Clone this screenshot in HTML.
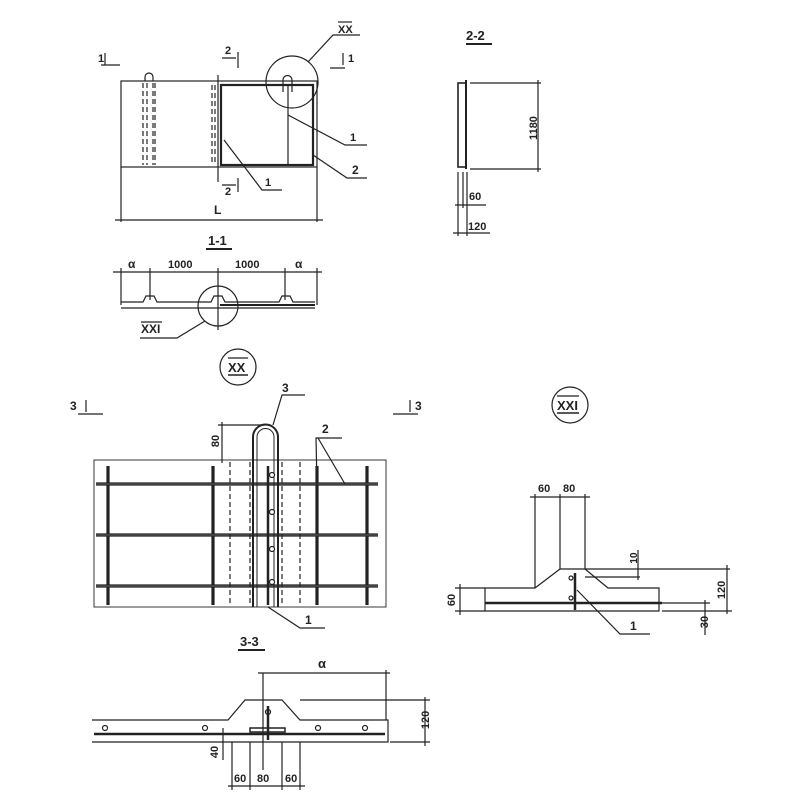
<!DOCTYPE html>
<html><head><meta charset="utf-8"><style>
html,body{margin:0;padding:0;background:#fff}
svg{display:block}
text{font-family:"Liberation Sans",sans-serif;font-weight:bold;fill:#222}
</style></head><body>
<svg width="800" height="800" viewBox="0 0 800 800" xmlns="http://www.w3.org/2000/svg" stroke="#222" fill="none" stroke-width="1.2">
<!-- Plan -->
<rect x="121" y="81" width="196" height="86"/>
<rect x="221" y="85" width="92" height="80" stroke-width="2.2"/>
<line x1="288" y1="85" x2="288" y2="165"/>
<line x1="218" y1="75" x2="218" y2="182"/>
<g stroke-dasharray="5,3">
<line x1="143" y1="83" x2="143" y2="165"/><line x1="147" y1="83" x2="147" y2="165"/><line x1="153" y1="83" x2="153" y2="165"/><line x1="155" y1="83" x2="155" y2="165"/>
<line x1="212" y1="85" x2="212" y2="165"/><line x1="215" y1="85" x2="215" y2="165"/>
</g>
<path d="M145 81 V77 a4 4 0 0 1 8 0 V81"/>
<path d="M283 92 V80 a4 4 0 0 1 9 0 V92"/>
<circle cx="292" cy="82" r="26"/>
<polyline points="308,62 333,35 360,35"/>
<text x="338" y="33" font-size="11" stroke="none">XX</text><line x1="338" y1="22" x2="352" y2="22"/>
<text x="98" y="62" font-size="11" stroke="none">1</text><path d="M105 53 V65 M101 65 H120"/>
<text x="225" y="54" font-size="11" stroke="none">2</text><path d="M222 58 H236 M238 52 V68"/>
<text x="225" y="195" font-size="11" stroke="none">2</text><path d="M222 185 H236 M238 178 V192"/>
<text x="348" y="62" font-size="11" stroke="none">1</text><path d="M343 53 V65 M330 68 H345"/>
<polyline points="288,115 345,145 367,145"/><text x="350" y="141" font-size="11" stroke="none">1</text>
<polyline points="313,155 347,178 367,178"/><text x="352" y="174" font-size="12" stroke="none">2</text>
<polyline points="224,140 262,190 282,190"/><text x="265" y="186" font-size="11" stroke="none">1</text>
<line x1="121" y1="167" x2="121" y2="222"/><line x1="317" y1="167" x2="317" y2="222"/>
<line x1="115" y1="220" x2="323" y2="220"/>
<text x="214" y="214" font-size="12" stroke="none">L</text>
<!-- 2-2 -->
<text x="466" y="40" font-size="13" stroke="none">2-2</text><line x1="466" y1="44" x2="492" y2="44" stroke-width="2"/>
<rect x="458" y="83" width="8" height="84" stroke-width="1.6"/>
<line x1="466" y1="80" x2="466" y2="169" stroke-width="2"/>
<line x1="470" y1="83" x2="541" y2="83"/><line x1="470" y1="169" x2="541" y2="169"/>
<line x1="538" y1="80" x2="538" y2="172"/>
<text transform="translate(537,128) rotate(-90)" font-size="11" stroke="none" text-anchor="middle">1180</text>
<line x1="458" y1="172" x2="458" y2="236"/><line x1="463" y1="172" x2="463" y2="208"/><line x1="467" y1="172" x2="467" y2="236"/>
<line x1="455" y1="205" x2="486" y2="205"/><text x="469" y="200" font-size="11" stroke="none">60</text>
<line x1="453" y1="233" x2="490" y2="233"/><text x="468" y="230" font-size="11" stroke="none">120</text>
<!-- 1-1 -->
<text x="208" y="245" font-size="13" stroke="none">1-1</text><line x1="206" y1="249" x2="232" y2="249" stroke-width="2"/>
<line x1="113" y1="272" x2="322" y2="272"/>
<g><line x1="121" y1="268" x2="121" y2="305"/><line x1="150" y1="268" x2="150" y2="300"/><line x1="218" y1="268" x2="218" y2="330"/><line x1="285" y1="268" x2="285" y2="300"/><line x1="317" y1="268" x2="317" y2="305"/></g>
<text x="128" y="268" font-size="12" stroke="none">α</text>
<text x="168" y="268" font-size="11" stroke="none">1000</text>
<text x="235" y="268" font-size="11" stroke="none">1000</text>
<text x="295" y="268" font-size="12" stroke="none">α</text>
<path d="M121 302 H143 L146 296 H154 L157 302 H211 L214 296 H222 L225 302 H279 L282 296 H290 L293 302 H315"/>
<line x1="121" y1="308" x2="315" y2="308"/><line x1="220" y1="305" x2="315" y2="305" stroke-width="2"/>
<circle cx="218" cy="306" r="20"/>
<polyline points="205,321 177,338 140,338"/>
<text x="141" y="333" font-size="12" stroke="none">XXI</text><line x1="141" y1="322" x2="162" y2="322"/>
<!-- XX -->
<circle cx="238" cy="367" r="18"/><text x="228" y="372" font-size="13" stroke="none">XX</text><line x1="228" y1="358" x2="248" y2="358"/><line x1="228" y1="375" x2="248" y2="375" stroke-width="1.6"/>
<text x="70" y="410" font-size="12" stroke="none">3</text><path d="M86 400 V412 M78 414 H103"/>
<text x="415" y="410" font-size="12" stroke="none">3</text><path d="M410 400 V412 M393 414 H418"/>
<rect x="94" y="460" width="292" height="147" stroke-width="0.9"/>
<g stroke-width="3.2">
<line x1="96" y1="484" x2="378" y2="484"/><line x1="96" y1="535" x2="378" y2="535"/><line x1="96" y1="586" x2="378" y2="586"/>
<line x1="108" y1="466" x2="108" y2="605"/><line x1="213" y1="466" x2="213" y2="605"/><line x1="317" y1="466" x2="317" y2="605"/><line x1="367" y1="466" x2="367" y2="605"/>
</g>
<g stroke="#777" stroke-width="0.8"><line x1="96" y1="484" x2="378" y2="484"/><line x1="96" y1="535" x2="378" y2="535"/><line x1="96" y1="586" x2="378" y2="586"/></g>
<g stroke-dasharray="5,3"><line x1="230" y1="462" x2="230" y2="605"/><line x1="250" y1="462" x2="250" y2="605"/><line x1="282" y1="462" x2="282" y2="605"/><line x1="300" y1="462" x2="300" y2="605"/></g>
<path d="M253 607 V437 a12.5 12.5 0 0 1 25 0 V607" stroke-width="2"/>
<path d="M257 607 V437 a8.5 8.5 0 0 1 17 0 V607" stroke-width="1"/>
<line x1="268" y1="466" x2="268" y2="605" stroke-width="2.5"/>
<g fill="#fff"><circle cx="272" cy="475" r="2.5"/><circle cx="272" cy="512" r="2.5"/><circle cx="272" cy="549" r="2.5"/><circle cx="272" cy="582" r="2.5"/></g>
<line x1="218" y1="425" x2="265" y2="425"/><line x1="222" y1="422" x2="222" y2="463"/>
<text transform="translate(219,441) rotate(-90)" font-size="11" stroke="none" text-anchor="middle">80</text>
<polyline points="273,425 282,395 305,395"/><text x="282" y="392" font-size="12" stroke="none">3</text>
<polyline points="317,486 316,438 342,438"/><line x1="318" y1="438" x2="345" y2="484"/><text x="322" y="433" font-size="12" stroke="none">2</text>
<polyline points="268,607 300,628 325,628"/><text x="305" y="624" font-size="12" stroke="none">1</text>
<!-- 3-3 -->
<text x="240" y="646" font-size="13" stroke="none">3-3</text><line x1="238" y1="650" x2="265" y2="650" stroke-width="2"/>
<path d="M92 720 H228 L245 700 H282 L300 720 H388 V742 H92"/>
<line x1="94" y1="734" x2="385" y2="734" stroke-width="2.4"/>
<g fill="#fff"><circle cx="105" cy="728" r="2.5"/><circle cx="205" cy="728" r="2.5"/><circle cx="318" cy="728" r="2.5"/><circle cx="365" cy="728" r="2.5"/><circle cx="268" cy="712" r="2.5"/></g>
<line x1="268" y1="706" x2="268" y2="740" stroke-width="2.5"/>
<rect x="250" y="728" width="35" height="4" stroke-width="1.5"/>
<line x1="263" y1="673" x2="263" y2="770"/><line x1="258" y1="673" x2="390" y2="673"/><line x1="386" y1="670" x2="386" y2="720"/>
<text x="318" y="668" font-size="13" stroke="none">α</text>
<line x1="300" y1="700" x2="430" y2="700"/><line x1="390" y1="742" x2="430" y2="742"/><line x1="425" y1="697" x2="425" y2="746"/>
<text transform="translate(429,720) rotate(-90)" font-size="11" stroke="none" text-anchor="middle">120</text>
<line x1="223" y1="728" x2="223" y2="760"/><text transform="translate(218,752) rotate(-90)" font-size="11" stroke="none" text-anchor="middle">40</text>
<g><line x1="232" y1="742" x2="232" y2="790"/><line x1="250" y1="742" x2="250" y2="790"/><line x1="282" y1="742" x2="282" y2="790"/><line x1="300" y1="742" x2="300" y2="790"/><line x1="228" y1="786" x2="305" y2="786"/></g>
<text x="234" y="782" font-size="11" stroke="none">60</text><text x="257" y="782" font-size="11" stroke="none">80</text><text x="285" y="782" font-size="11" stroke="none">60</text>
<!-- XXI -->
<circle cx="570" cy="405" r="18"/><text x="557" y="410" font-size="13" stroke="none">XXI</text><line x1="557" y1="396" x2="579" y2="396"/><line x1="557" y1="413" x2="579" y2="413" stroke-width="1.6"/>
<path d="M485 588 H535 L560 569 H585 L608 588 H659 V611 H485 Z"/>
<line x1="485" y1="603" x2="662" y2="603" stroke-width="2.4"/>
<line x1="575" y1="573" x2="575" y2="610" stroke-width="2.5"/>
<g fill="#fff"><circle cx="571" cy="578" r="2"/><circle cx="571" cy="598" r="2"/></g>
<line x1="535" y1="494" x2="535" y2="588"/><line x1="560" y1="494" x2="560" y2="569"/><line x1="585" y1="494" x2="585" y2="569"/>
<line x1="530" y1="497" x2="590" y2="497"/>
<text x="538" y="492" font-size="11" stroke="none">60</text><text x="563" y="492" font-size="11" stroke="none">80</text>
<line x1="585" y1="569" x2="730" y2="569"/><line x1="585" y1="577" x2="640" y2="577"/>
<text transform="translate(637,558) rotate(-90)" font-size="10" stroke="none" text-anchor="middle">10</text>
<line x1="638" y1="550" x2="638" y2="580"/>
<line x1="662" y1="611" x2="732" y2="611"/><line x1="727" y1="565" x2="727" y2="614"/>
<text transform="translate(725,590) rotate(-90)" font-size="11" stroke="none" text-anchor="middle">120</text>
<line x1="662" y1="603" x2="710" y2="603"/><line x1="705" y1="600" x2="705" y2="635"/>
<text transform="translate(708,622) rotate(-90)" font-size="11" stroke="none" text-anchor="middle">30</text>
<line x1="455" y1="588" x2="485" y2="588"/><line x1="455" y1="611" x2="485" y2="611"/><line x1="460" y1="584" x2="460" y2="615"/>
<text transform="translate(455,600) rotate(-90)" font-size="11" stroke="none" text-anchor="middle">60</text>
<polyline points="577,590 620,634 650,634"/><text x="630" y="630" font-size="12" stroke="none">1</text>
</svg>
</body></html>
